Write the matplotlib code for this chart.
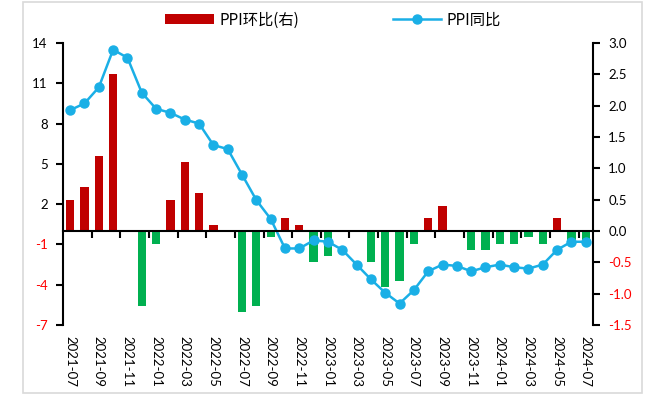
import matplotlib.pyplot as plt
from matplotlib.patches import Rectangle, Patch
from matplotlib.lines import Line2D

# monthly labels 2021-07 .. 2024-07
months = ['2021-07', '2021-08', '2021-09', '2021-10', '2021-11', '2021-12',
          '2022-01', '2022-02', '2022-03', '2022-04', '2022-05', '2022-06',
          '2022-07', '2022-08', '2022-09', '2022-10', '2022-11', '2022-12',
          '2023-01', '2023-02', '2023-03', '2023-04', '2023-05', '2023-06',
          '2023-07', '2023-08', '2023-09', '2023-10', '2023-11', '2023-12',
          '2024-01', '2024-02', '2024-03', '2024-04', '2024-05', '2024-06',
          '2024-07']

# PPI year-on-year (left axis)
ppi_yoy = [9.0, 9.5, 10.7, 13.5, 12.9, 10.3,
           9.1, 8.8, 8.3, 8.0, 6.4, 6.1,
           4.2, 2.3, 0.9, -1.3, -1.3, -0.7,
           -0.8, -1.4, -2.5, -3.6, -4.6, -5.4,
           -4.4, -3.0, -2.5, -2.6, -3.0, -2.7,
           -2.5, -2.7, -2.8, -2.5, -1.4, -0.8,
           -0.8]

# PPI month-on-month (right axis)
ppi_mom = [0.5, 0.7, 1.2, 2.5, 0.0, -1.2,
           -0.2, 0.5, 1.1, 0.6, 0.1, 0.0,
           -1.3, -1.2, -0.1, 0.2, 0.1, -0.5,
           -0.4, 0.0, 0.0, -0.5, -0.9, -0.8,
           -0.2, 0.2, 0.4, 0.0, -0.3, -0.3,
           -0.2, -0.2, -0.1, -0.2, 0.2, -0.2,
           -0.2]

left_ticks = [-7, -4, -1, 2, 5, 8, 11, 14]
right_ticks = [-1.5, -1.0, -0.5, 0.0, 0.5, 1.0, 1.5, 2.0, 2.5, 3.0]

RED = '#C00000'
GREEN = '#00B050'
BLUE = '#1AAFE6'
NUM_FONT = 'Lato'
CJK_FONT = ['Noto Sans CJK SC', 'DejaVu Sans']

fig = plt.figure(figsize=(6.64, 3.98), dpi=100)
ax = fig.add_axes([0.0949, 0.1834, 0.798, 0.7086])
ax2 = ax.twinx()

# gray frame round the whole chart
fig.patches.append(Rectangle((23 / 664, 1 - 393 / 398), 619 / 664, 391 / 398,
                             transform=fig.transFigure, fill=False,
                             edgecolor='#d9d9d9', linewidth=1.2))

x = list(range(len(months)))

# bars on right axis
bar_colors = [RED if v >= 0 else GREEN for v in ppi_mom]
ax2.bar(x, ppi_mom, width=0.58, color=bar_colors)
ax2.set_ylim(-1.5, 3.0)
ax2.set_yticks(right_ticks)
ax2.set_yticklabels([f'{t:.1f}' for t in right_ticks], fontfamily=NUM_FONT, fontsize=9.5)
for lab, t in zip(ax2.get_yticklabels(), right_ticks):
    lab.set_color('red' if t < 0 else 'black')

# line on left axis, drawn above the bars
ax.set_zorder(ax2.get_zorder() + 1)
ax.patch.set_visible(False)
ax.plot(x, ppi_yoy, color=BLUE, linewidth=1.8, marker='o', markersize=6.5)
ax.set_ylim(-7, 14)
ax.set_yticks(left_ticks)
ax.set_yticklabels([str(t) for t in left_ticks], fontfamily=NUM_FONT, fontsize=9.5)
for lab, t in zip(ax.get_yticklabels(), left_ticks):
    lab.set_color('red' if t < 0 else 'black')

ax.set_xlim(-0.5, len(months) - 0.5)

# spines
for a in (ax, ax2):
    a.spines['top'].set_visible(False)
ax.spines['right'].set_visible(False)
ax2.spines['left'].set_visible(False)
ax2.spines['bottom'].set_visible(False)
ax.spines['bottom'].set_position(('data', 0))
ax.spines['left'].set_linewidth(1.5)
ax2.spines['right'].set_linewidth(1.5)
ax.spines['bottom'].set_linewidth(1.5)

ax.tick_params(axis='y', direction='out', length=5, width=1.5, pad=6)
ax2.tick_params(axis='y', direction='out', length=5, width=1.5, pad=6)

# tick marks on zero line at category boundaries, labels at bottom
ax.set_xticks([i + 1.5 for i in range(0, len(months) - 1, 2)])
ax.tick_params(axis='x', direction='out', length=5, width=1.5, labelbottom=False)
for i in range(0, len(months), 2):
    ax.text(i, -0.04, months[i], transform=ax.get_xaxis_transform(),
            rotation=270, ha='center', va='top',
            fontfamily=NUM_FONT, fontsize=9.5)

# legend
handles = [Patch(facecolor=RED, edgecolor='none'),
           Line2D([0], [0], color=BLUE, linewidth=1.8, marker='o', markersize=6.5)]
fig.legend(handles, ['PPI环比(右)', 'PPI同比'], loc='center',
           bbox_to_anchor=(0.502, 0.95), ncol=2, frameon=False,
           prop={'family': CJK_FONT, 'size': 11},
           handlelength=3.15, handleheight=0.55, handletextpad=0.4,
           columnspacing=6.1)

fig.savefig('out.png', dpi=100)
